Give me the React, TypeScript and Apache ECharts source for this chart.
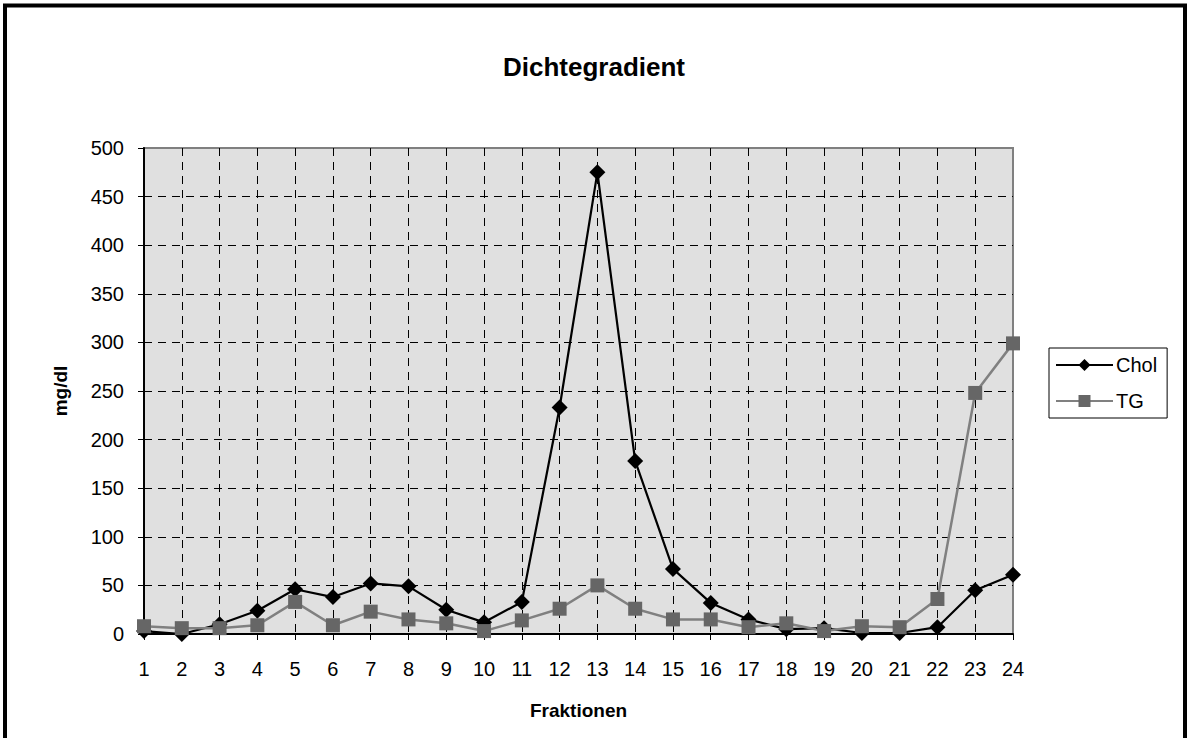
import React, { useEffect, useRef } from "react";
import * as echarts from "echarts";

const categories = ["1","2","3","4","5","6","7","8","9","10","11","12","13","14","15","16","17","18","19","20","21","22","23","24"];
const cholValues = [3, 0, 10, 24, 46, 38, 52, 49, 25, 12, 33, 233, 475, 178, 67, 32, 15, 5, 6, 1, 1, 7, 45, 61];
const tgValues = [8, 6, 6, 9, 33, 9, 23, 15, 11, 3, 14, 26, 50, 26, 15, 15, 7, 11, 3, 8, 7, 36, 248, 299];

export default function App() {
  const ref = useRef<HTMLDivElement>(null);
  useEffect(() => {
    document.body.style.margin = "0";
    const chart = echarts.init(ref.current!, null, { renderer: "svg" });
    const font = "Liberation Sans, Arial, sans-serif";
    chart.setOption({
      animation: false,
      backgroundColor: "#ffffff",
      textStyle: { fontFamily: font },
      title: {
        text: "Dichtegradient",
        left: "center",
        top: 49,
        textStyle: { fontFamily: font, fontSize: 26, fontWeight: "bold", color: "#000" },
      },
      graphic: [
        {
          type: "rect",
          shape: { x: 5, y: 5.5, width: 1180, height: 800 },
          style: { fill: "none", stroke: "#000", lineWidth: 4 },
          z: 100,
        },
      ],
      grid: {
        left: 144,
        top: 148,
        right: 175,
        bottom: 104,
        show: true,
        backgroundColor: "#e0e0e0",
        borderColor: "#808080",
        borderWidth: 2,
      },
      legend: {
        orient: "vertical",
        left: 1049,
        top: 348,
        backgroundColor: "#fff",
        borderColor: "#000",
        borderWidth: 1,
        padding: [7, 10, 7, 6],
        itemWidth: 57,
        itemHeight: 15,
        itemGap: 16,
        textStyle: { fontFamily: font, fontSize: 20, color: "#000", padding: [0, 0, 0, -2] },
        data: ["Chol", "TG"],
      },
      xAxis: {
        type: "category",
        data: categories,
        boundaryGap: false,
        name: "Fraktionen",
        nameLocation: "middle",
        nameGap: 67,
        nameMoveOverlap: false,
        nameTextStyle: { fontFamily: font, fontSize: 19, fontWeight: "bold", color: "#000" },
        axisLine: { show: true, lineStyle: { color: "#000", width: 2 } },
        axisTick: { show: true, alignWithLabel: true, length: 6, lineStyle: { color: "#000", width: 1 } },
        axisLabel: { fontFamily: font, fontSize: 20, color: "#000", margin: 25 },
        splitLine: { show: true, showMaxLine: false, lineStyle: { color: "#000", type: [8, 6], width: 1 } },
      },
      yAxis: {
        type: "value",
        min: 0,
        max: 500,
        interval: 50,
        name: "mg/dl",
        nameLocation: "middle",
        nameGap: 74,
        nameMoveOverlap: false,
        nameRotate: 90,
        nameTextStyle: { fontFamily: font, fontSize: 19, fontWeight: "bold", color: "#000" },
        axisLine: { show: true, lineStyle: { color: "#000", width: 2 } },
        axisTick: { show: true, length: 6, lineStyle: { color: "#000", width: 1 } },
        axisLabel: { fontFamily: font, fontSize: 20, color: "#000", margin: 20 },
        splitLine: { show: true, showMaxLine: false, lineStyle: { color: "#000", type: [8, 6], width: 1 } },
      },
      series: [
        {
          name: "Chol",
          type: "line",
          data: cholValues,
          symbol: "diamond",
          symbolSize: 16,
          itemStyle: { color: "#000" },
          lineStyle: { color: "#000", width: 2.2 },
        },
        {
          name: "TG",
          type: "line",
          data: tgValues,
          symbol: "rect",
          symbolSize: 14,
          itemStyle: { color: "#666666" },
          lineStyle: { color: "#808080", width: 2.5 },
        },
      ],
    });
    return () => chart.dispose();
  }, []);
  return <div ref={ref} style={{ position: "absolute", left: 0, top: 0, width: 1188, height: 738 }} />;
}
